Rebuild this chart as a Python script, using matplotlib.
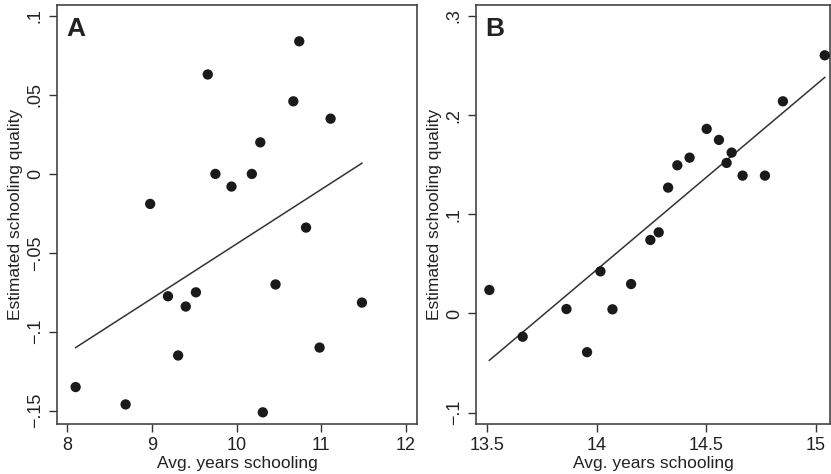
import numpy as np
import matplotlib
matplotlib.use("Agg")
import matplotlib.pyplot as plt
from matplotlib.ticker import FuncFormatter

plt.rcParams["font.family"] = ["Liberation Sans", "DejaVu Sans"]

# Panel A: schooling quality vs years (low-schooling sample)
years_a = [8.10, 8.69, 8.98, 9.19, 9.31, 9.40, 9.52, 9.66, 9.75, 9.94,
           10.18, 10.28, 10.31, 10.46, 10.67, 10.74, 10.82, 10.98, 11.11, 11.48]
quality_a = [-0.135, -0.146, -0.019, -0.0775, -0.115, -0.084, -0.075, 0.063, 0.0, -0.008,
             0.0, 0.020, -0.151, -0.070, 0.046, 0.084, -0.034, -0.110, 0.035, -0.0815]
# fitted line as drawn in the figure (end points)
fit_x_a = [8.10, 11.48]
fit_y_a = [-0.110, 0.0068]

# Panel B
years_b = [13.509, 13.661, 13.861, 13.955, 14.016, 14.071, 14.156, 14.244, 14.282, 14.325,
           14.367, 14.423, 14.501, 14.557, 14.592, 14.615, 14.665, 14.767, 14.849, 15.040]
quality_b = [0.0237, -0.0234, 0.0045, -0.039, 0.0425, 0.0042, 0.0297, 0.0741, 0.0818, 0.1269,
             0.1494, 0.1571, 0.1861, 0.1750, 0.1518, 0.1622, 0.1390, 0.1390, 0.2139, 0.2603]
fit_x_b = [13.509, 15.040]
fit_y_b = [-0.0472, 0.238]

xticks_a = [8, 9, 10, 11, 12]
yticks_a = [-0.15, -0.1, -0.05, 0, 0.05, 0.1]
xticks_b = [13.5, 14, 14.5, 15]
yticks_b = [-0.1, 0, 0.1, 0.2, 0.3]


def stata_fmt(v, pos=None):
    if abs(v) < 1e-9:
        return "0"
    s = f"{abs(v):g}".lstrip("0")
    return ("\u2212" if v < 0 else "") + s


def panel(ax, x, y, fx, fy, xticks, yticks, xlim, ylim, letter):
    ax.plot(fx, fy, color="#333333", lw=1.1, zorder=2)
    ax.scatter(x, y, s=55, color="#1a1a1a", edgecolors="none", zorder=3)
    ax.set_xlim(*xlim); ax.set_ylim(*ylim)
    ax.set_xticks(xticks); ax.set_yticks(yticks)
    ax.xaxis.set_major_formatter(FuncFormatter(lambda v, p: f"{v:g}"))
    ax.yaxis.set_major_formatter(FuncFormatter(stata_fmt))
    ax.tick_params(direction="out", length=6, width=1, color="#333333",
                   labelsize=13, colors="#222222")
    plt.setp(ax.get_yticklabels(), rotation=90, va="center")
    for sp in ax.spines.values():
        sp.set_color("#444444"); sp.set_linewidth(1.2)
    ax.set_xlabel("Avg. years schooling", fontsize=12.5, color="#222222", labelpad=1)
    ax.set_ylabel("Estimated schooling quality", fontsize=12.5, color="#222222", labelpad=3)
    ax.text(0.025, 0.972, letter, transform=ax.transAxes, fontsize=19,
            fontweight="bold", va="top", ha="left", color="#222222")


fig = plt.figure(figsize=(8.31, 4.74), dpi=100)
W, H = 831, 474
ax1 = fig.add_axes([57 / W, 1 - 424 / H, 360 / W, 419 / H])
ax2 = fig.add_axes([476 / W, 1 - 424 / H, 354 / W, 419 / H])

panel(ax1, years_a, quality_a, fit_x_a, fit_y_a, xticks_a, yticks_a,
      (7.88, 12.13), (-0.1584, 0.107), "A")
panel(ax2, years_b, quality_b, fit_x_b, fit_y_b, xticks_b, yticks_b,
      (13.448, 15.064), (-0.1114, 0.311), "B")

fig.savefig("out.png", dpi=100)
